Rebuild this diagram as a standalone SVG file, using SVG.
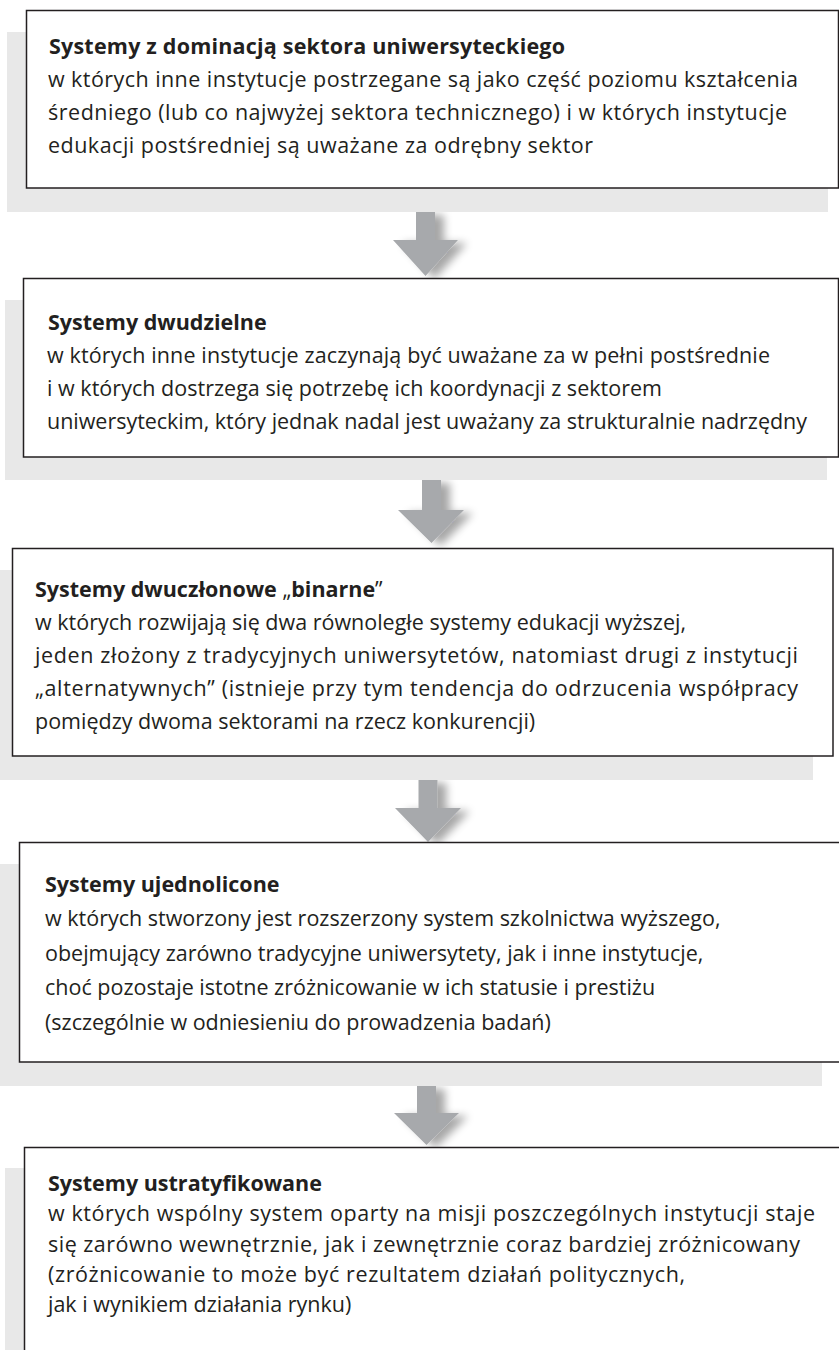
<svg xmlns="http://www.w3.org/2000/svg" width="839" height="1350" viewBox="0 0 839 1350">
<defs>
<style>
.shadow{fill:#e8e8e8;stroke:none}
.box{fill:#ffffff;stroke:#231f20;stroke-width:1.5}
.t{font-family:"Open Sans","Noto Sans","Liberation Sans",sans-serif;font-size:21.5px;fill:#231f20}
.b{font-weight:bold}
.arrow{fill:#a7a9ac;filter:url(#ash)}
</style>
<filter id="ash" x="-30%" y="-30%" width="180%" height="180%">
<feGaussianBlur in="SourceAlpha" stdDeviation="4"/>
<feOffset dx="9" dy="3" result="o"/>
<feComponentTransfer><feFuncA type="linear" slope="0.35"/></feComponentTransfer>
<feMerge><feMergeNode/><feMergeNode in="SourceGraphic"/></feMerge>
</filter>
</defs>
<rect width="839" height="1350" fill="#ffffff"/>

<g id="connectors">
<path class="arrow" d="M416,212 H435 V240 H458 L425.5,276 L393,240 H416 Z"/>
<path class="arrow" d="M422,480 H441 V510 H464 L431.5,543 L398,510 H422 Z"/>
<path class="arrow" d="M418.5,780 H437.5 V808 H461 L428,842 L395,808 H418.5 Z"/>
<path class="arrow" d="M417,1086 H436 V1113 H459 L426.5,1145 L394,1113 H417 Z"/>
</g>

<g id="node1">
<rect class="shadow" x="7" y="32" width="821" height="180"/>
<rect class="box" x="26.5" y="10.5" width="812" height="177.5"/>
<text class="t b" x="49" y="54" textLength="516">Systemy z dominacją sektora uniwersyteckiego</text>
<text class="t" x="48" y="87" textLength="750">w których inne instytucje postrzegane są jako część poziomu kształcenia</text>
<text class="t" x="48" y="120" textLength="739">średniego (lub co najwyżej sektora technicznego) i w których instytucje</text>
<text class="t" x="48" y="153" textLength="545">edukacji postśredniej są uważane za odrębny sektor</text>
</g>

<g id="node2">
<rect class="shadow" x="5" y="300" width="822" height="180"/>
<rect class="box" x="23.5" y="278.5" width="815" height="178.5"/>
<text class="t b" x="48" y="330">Systemy dwudzielne</text>
<text class="t" x="47" y="363" textLength="723">w których inne instytucje zaczynają być uważane za w pełni postśrednie</text>
<text class="t" x="47" y="396" textLength="615">i w których dostrzega się potrzebę ich koordynacji z sektorem</text>
<text class="t" x="47" y="429" textLength="760">uniwersyteckim, który jednak nadal jest uważany za strukturalnie nadrzędny</text>
</g>

<g id="node3">
<rect class="shadow" x="0" y="570" width="813" height="210"/>
<rect class="box" x="12.5" y="548.5" width="820.5" height="207.5"/>
<text class="t" x="35" y="597"><tspan class="b">Systemy dwuczłonowe </tspan>„<tspan class="b">binarne</tspan>”</text>
<text class="t" x="35" y="630">w których rozwijają się dwa równoległe systemy edukacji wyższej,</text>
<text class="t" x="35" y="663" textLength="763">jeden złożony z tradycyjnych uniwersytetów, natomiast drugi z instytucji</text>
<text class="t" x="35" y="696" textLength="763">„alternatywnych” (istnieje przy tym tendencja do odrzucenia współpracy</text>
<text class="t" x="35" y="729">pomiędzy dwoma sektorami na rzecz konkurencji)</text>
</g>

<g id="node4">
<rect class="shadow" x="0" y="864" width="822" height="222"/>
<rect class="box" x="19.5" y="842.5" width="822" height="219.5"/>
<text class="t b" x="45" y="892">Systemy ujednolicone</text>
<text class="t" x="45" y="926">w których stworzony jest rozszerzony system szkolnictwa wyższego,</text>
<text class="t" x="45" y="961">obejmujący zarówno tradycyjne uniwersytety, jak i inne instytucje,</text>
<text class="t" x="45" y="995">choć pozostaje istotne zróżnicowanie w ich statusie i prestiżu</text>
<text class="t" x="45" y="1030">(szczególnie w odniesieniu do prowadzenia badań)</text>
</g>

<g id="node5">
<rect class="shadow" x="5" y="1168" width="822" height="200"/>
<rect class="box" x="24.5" y="1147.5" width="822" height="220"/>
<text class="t b" x="48" y="1191">Systemy ustratyfikowane</text>
<text class="t" x="48" y="1221" textLength="767">w których wspólny system oparty na misji poszczególnych instytucji staje</text>
<text class="t" x="48" y="1252" textLength="752">się zarówno wewnętrznie, jak i zewnętrznie coraz bardziej zróżnicowany</text>
<text class="t" x="48" y="1282" textLength="637">(zróżnicowanie to może być rezultatem działań politycznych,</text>
<text class="t" x="48" y="1312">jak i wynikiem działania rynku)</text>
</g>
</svg>
